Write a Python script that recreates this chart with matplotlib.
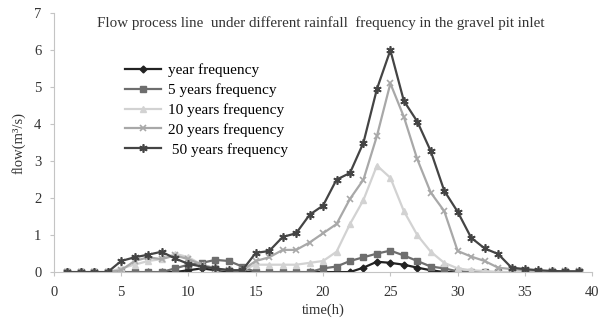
import matplotlib
matplotlib.use("Agg")
import matplotlib.pyplot as plt

plt.rcParams['font.family'] = ['Liberation Serif', 'DejaVu Serif']

hours = list(range(1, 40))
year_freq = [0, 0, 0, 0, 0, 0, 0, 0, 0, 0.05, 0.1, 0.05, 0.02, 0.02, 0, 0, 0, 0, 0, 0,
             0, 0, 0.12, 0.28, 0.25, 0.2, 0.12, 0.05, 0, 0, 0, 0, 0, 0, 0, 0, 0, 0, 0]
y5_freq = [0, 0, 0, 0, 0, 0, 0, 0, 0.1, 0.2, 0.25, 0.33, 0.3, 0.15, 0, 0, 0, 0, 0, 0.1,
           0.15, 0.3, 0.4, 0.5, 0.58, 0.45, 0.3, 0.15, 0.1, 0.02, 0, 0, 0, 0, 0, 0, 0, 0, 0]
y10_freq = [0, 0, 0, 0, 0.1, 0.2, 0.3, 0.35, 0.5, 0.4, 0.2, 0.1, 0.05, 0.05, 0.2, 0.2, 0.2, 0.2, 0.25, 0.3,
            0.55, 1.3, 1.95, 2.88, 2.55, 1.65, 1.0, 0.55, 0.25, 0.1, 0.05, 0.03, 0, 0, 0, 0, 0, 0, 0]
y20_freq = [0, 0, 0, 0, 0.05, 0.3, 0.4, 0.35, 0.45, 0.35, 0.2, 0.1, 0.05, 0.05, 0.3, 0.4, 0.6, 0.6, 0.8, 1.05,
            1.3, 1.98, 2.5, 3.68, 5.1, 4.2, 3.05, 2.15, 1.65, 0.57, 0.42, 0.3, 0.12, 0.08, 0.05, 0.03, 0.02, 0.02, 0.02]
y50_freq = [0, 0, 0, 0, 0.3, 0.4, 0.47, 0.55, 0.37, 0.22, 0.15, 0.1, 0.05, 0.05, 0.52, 0.57, 0.95, 1.05, 1.55, 1.8,
            2.5, 2.68, 3.5, 4.95, 6.0, 4.63, 4.07, 3.27, 2.2, 1.63, 0.93, 0.64, 0.49, 0.12, 0.08, 0.05, 0.03, 0.02, 0.02]

labels = ['year frequency', '5 years frequency', '10 years frequency', '20 years frequency', ' 50 years frequency']

fig = plt.figure(figsize=(6.05, 3.22), dpi=100)
ax = fig.add_axes([0.089, 0.155, 0.89, 0.804])

lw = 1.6
ax.plot(hours, year_freq, color='#222222', marker='D', markersize=3.5, linewidth=lw, label=labels[0])
ax.plot(hours, y5_freq, color='#6e6e6e', marker='s', markersize=4, linewidth=lw, label=labels[1])
ax.plot(hours, y10_freq, color='#d2d2d2', marker='^', markersize=4, linewidth=lw, label=labels[2])
ax.plot(hours, y20_freq, color='#a8a8a8', marker='x', markersize=5, markeredgewidth=1.2, linewidth=lw, label=labels[3])
ax.plot(hours, y50_freq, color='#444444', marker=(6, 2, 0), markersize=6, markeredgewidth=1.2, linewidth=lw, label=labels[4])

ax.set_xlim(0, 40)
ax.set_ylim(0, 7)
ax.set_xticks(range(0, 41, 5))
ax.set_yticks(range(0, 8))
for s in ['top', 'right']:
    ax.spines[s].set_visible(False)
for s in ['left', 'bottom']:
    ax.spines[s].set_color('#c4c4c4')
ax.tick_params(colors='#c4c4c4', labelcolor='#333333', labelsize=10.5, direction='out', length=3)
ax.tick_params(axis='x', pad=7)
ax.tick_params(axis='y', pad=6)

ax.set_xlabel('time(h)', fontsize=10.5, color='#333333', labelpad=3)
ax.set_ylabel('flow(m³/s)', fontsize=10.5, color='#333333', labelpad=6)
ax.text(0.495, 0.99, 'Flow process line  under different rainfall  frequency in the gravel pit inlet',
        transform=ax.transAxes, ha='center', va='top', fontsize=10.8, color='#333333')

ax.legend(loc='upper left', bbox_to_anchor=(0.12, 0.83), frameon=False, fontsize=11,
          handlelength=2.4, labelspacing=0.4, handletextpad=0.45, borderaxespad=0)

fig.savefig('out.png', dpi=100)
